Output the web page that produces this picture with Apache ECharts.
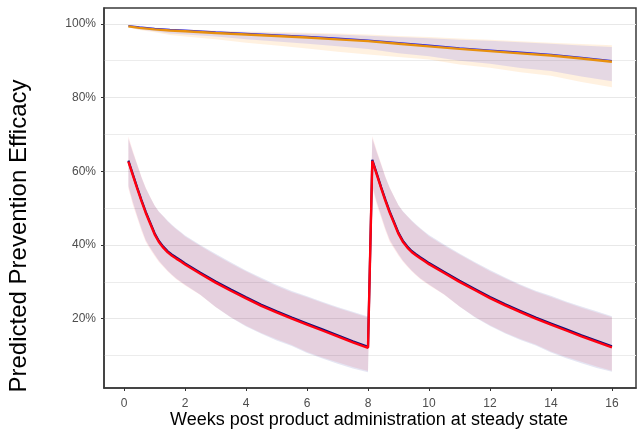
<!DOCTYPE html>
<html>
<head>
<meta charset="utf-8">
<script src="https://cdn.jsdelivr.net/npm/echarts@6/dist/echarts.min.js"></script>
<style>
html,body{margin:0;padding:0;background:#fff;}
#chart{width:637px;height:431px;}
</style>
</head>
<body>
<div id="chart"></div>
<script>
// ---- Data (percent) ----
var weeksLow = [0.14,0.29,0.43,0.57,0.71,0.86,1,1.14,1.29,1.43,1.57,1.71,1.86,2,2.5,3,3.5,4,4.5,5,5.5,6,6.5,7,7.5,8,
                8.14,8.29,8.43,8.57,8.71,8.86,9,9.14,9.29,9.43,9.57,9.71,9.86,10,10.5,11,11.5,12,12.5,13,13.5,14,14.5,15,15.5,16];
var redLine  = [62.6,58.8,55.3,51.9,48.7,45.7,42.9,40.8,39.2,38.0,37.1,36.3,35.5,34.7,32.2,29.8,27.6,25.5,23.5,21.7,20.0,18.4,16.8,15.2,13.6,12.1,
                62.8,59.0,55.4,52.0,48.8,45.8,43.0,40.9,39.3,38.1,37.2,36.4,35.6,34.8,32.4,30.0,27.8,25.6,23.6,21.8,20.0,18.4,16.8,15.2,13.7,12.2];
var navyLine = [62.9,59.1,55.6,52.2,49.0,46.0,43.2,41.1,39.5,38.3,37.4,36.6,35.8,35.0,32.5,30.1,27.9,25.8,23.8,22.0,20.3,18.7,17.1,15.5,13.9,12.4,
                63.1,59.3,55.7,52.3,49.1,46.1,43.3,41.2,39.6,38.4,37.5,36.7,35.9,35.1,32.7,30.3,28.1,25.9,23.9,22.1,20.3,18.7,17.1,15.5,14.0,12.5];
var redHi    = [69.5,65.5,62.0,58.5,55.5,53.0,50.7,49.0,47.7,46.4,45.3,44.3,43.3,42.3,39.7,37.3,35.0,32.8,30.8,28.9,27.2,25.8,24.3,22.9,21.6,20.3,
                69.6,65.6,62.1,58.6,55.6,53.1,50.8,49.1,47.8,46.5,45.4,44.4,43.4,42.4,39.8,37.4,35.1,32.9,30.9,29.0,27.3,25.9,24.4,23.0,21.7,20.4];
var redLo    = [55.3,50.8,47.3,43.8,40.8,38.8,37.0,35.4,34.0,32.8,31.7,30.7,29.8,29.0,26.4,23.2,20.4,18.1,16.1,14.4,12.9,11.0,9.5,8.2,6.9,5.8,
                55.4,50.9,47.4,43.9,40.9,38.9,37.1,35.5,34.1,32.9,31.8,30.8,29.9,29.1,26.5,23.3,20.5,18.2,16.2,14.5,13.0,11.1,9.6,8.3,7.0,5.9];
var navyHi   = [68.8,65.0,61.7,58.3,55.4,52.9,50.7,49.1,47.8,46.6,45.5,44.5,43.5,42.6,40.0,37.6,35.3,33.1,31.1,29.2,27.5,26.1,24.6,23.2,21.9,20.6,
                68.9,65.1,61.8,58.4,55.5,53.0,50.8,49.2,47.9,46.7,45.6,44.6,43.6,42.7,40.1,37.7,35.4,33.2,31.2,29.3,27.6,26.2,24.7,23.3,22.0,20.7];
var navyLo   = [56.0,51.5,47.9,44.4,41.3,39.2,37.4,35.7,34.3,33.0,31.9,30.9,30.0,29.2,26.5,23.2,20.3,17.9,15.9,14.1,12.6,10.7,9.2,7.8,6.5,5.5,
                56.1,51.6,48.0,44.5,41.4,39.3,37.5,35.8,34.4,33.1,32.0,31.0,30.1,29.3,26.6,23.3,20.4,18.0,16.0,14.2,12.7,10.8,9.3,7.9,6.6,5.6];

var weeksHigh   = [0.14,0.5,1,1.5,2,3,4,5,6,7,8,9,10,11,12,13,14,15,16];
var orangeLine  = [99.3,98.9,98.5,98.2,98.0,97.5,97.1,96.7,96.3,95.8,95.3,94.6,93.9,93.2,92.6,92.0,91.4,90.6,89.7];
var blueLine    = [99.5,99.15,98.75,98.45,98.25,97.75,97.35,96.95,96.55,96.05,95.55,94.85,94.15,93.45,92.85,92.25,91.65,90.85,89.95];
var blueHi      = [99.5,99.2,98.8,98.5,98.3,98.0,97.7,97.5,97.3,97.1,96.8,96.4,96.1,95.7,95.4,95.0,94.6,94.1,93.7];
var blueLo      = [99.1,98.5,98.0,97.4,97.1,96.6,95.8,95.2,94.6,93.9,93.2,92.0,91.2,90.0,89.2,88.0,87.2,85.7,84.4];
var orangeHi    = [99.55,99.3,99.0,98.6,98.45,98.2,97.95,97.8,97.6,97.4,97.1,96.7,96.4,96.0,95.7,95.3,94.9,94.5,94.2];
var orangeLo    = [99.0,98.3,97.7,97.0,96.6,95.8,94.9,94.1,93.3,92.4,91.7,91.0,90.3,89.0,88.1,86.9,85.9,84.2,82.8];

var xTicks = [0,2,4,6,8,10,12,14,16];
var yTicks = [20,40,60,80,100];
var yMinorGrid = [10,30,50,70,90];
var xTitle = 'Weeks post product administration at steady state';
var yTitle = 'Predicted Prevention Efficacy';

// ---- helpers ----
function pairs(xs, ys){ return xs.map(function(x,i){ return [x, ys[i]]; }); }
function triples(xs, lo, hi){ return xs.map(function(x,i){ return [x, lo[i], hi[i]]; }); }

function ribbon(name, xs, lo, hi, color){
  var data = triples(xs, lo, hi);
  return {
    name: name, type: 'custom', clip: true, silent: true,
    encode: { x: 0, y: [1,2] },
    data: data,
    renderItem: function(params, api){
      if (params.dataIndex !== 0) return null;
      var top = [], bot = [];
      for (var i = 0; i < data.length; i++){
        top.push(api.coord([data[i][0], data[i][2]]));
        bot.push(api.coord([data[i][0], data[i][1]]));
      }
      var pts = top.concat(bot.reverse());
      return { type: 'polygon', shape: { points: pts }, style: { fill: color, stroke: null } };
    },
    z: 1
  };
}
function line(name, xs, ys, color, width, z){
  return {
    name: name, type: 'line', data: pairs(xs, ys), showSymbol: false, symbol: 'none',
    lineStyle: { color: color, width: width }, itemStyle: { color: color },
    z: z, silent: true, animation: false
  };
}

var chart = echarts.init(document.getElementById('chart'), null, { renderer: 'canvas' });
var fontFam = 'Liberation Sans, Arial, sans-serif';

chart.setOption({
  animation: false,
  backgroundColor: '#ffffff',
  grid: { left: 104, right: 1, top: 8, bottom: 43, outerBoundsMode: 'none', containLabel: false,
          show: true, borderColor: '#3a3a3a', borderWidth: 1.5, backgroundColor: 'transparent' },
  xAxis: {
    type: 'value', min: -0.66, max: 16.79,
    axisLine: { show: true, onZero: false, lineStyle: { color: '#3a3a3a', width: 1.5 } },
    axisTick: { show: true, length: 3, customValues: xTicks, lineStyle: { color: '#333' } },
    axisLabel: { customValues: xTicks, color: '#4d4d4d', fontFamily: fontFam, fontSize: 12, margin: 10 },
    splitLine: { show: false }
  },
  yAxis: [{
    type: 'value', min: 1.2, max: 104.3,
    axisLine: { show: true, onZero: false, lineStyle: { color: '#3a3a3a', width: 1.5 } },
    axisTick: { show: true, length: 3, customValues: yTicks, lineStyle: { color: '#333' } },
    axisLabel: { customValues: yTicks, formatter: function(v){ return v + '%'; }, color: '#4d4d4d', fontFamily: fontFam, fontSize: 12, margin: 8 },
    splitLine: { show: true, lineStyle: { color: '#e8e8e8', width: 1 } }
  },{
    type: 'value', min: 1.2, max: 104.3, position: 'left',
    axisLine: { show: false, onZero: false },
    axisTick: { show: false, customValues: yMinorGrid },
    axisLabel: { show: false, customValues: yMinorGrid },
    splitLine: { show: true, lineStyle: { color: '#ececec', width: 1 } }
  }],
  graphic: [{
    type: 'text', x: 19, y: 236, rotation: Math.PI / 2,
    style: { text: yTitle, font: '24px Liberation Sans, Arial, sans-serif', fill: '#000', align: 'center', verticalAlign: 'middle' }
  },{
    type: 'text', x: 369, y: 420,
    style: { text: xTitle, font: '18px Liberation Sans, Arial, sans-serif', fill: '#000', align: 'center', verticalAlign: 'middle' }
  }],
  series: [
    ribbon('orange band', weeksHigh, orangeLo, orangeHi, 'rgba(255,140,0,0.12)'),
    ribbon('blue band', weeksHigh, blueLo, blueHi, 'rgba(0,0,255,0.10)'),
    ribbon('red band', weeksLow, redLo, redHi, 'rgba(255,0,0,0.09)'),
    ribbon('navy band', weeksLow, navyLo, navyHi, 'rgba(0,0,139,0.10)'),
    line('blue', weeksHigh, blueLine, '#2020f0', 1.6, 5),
    line('orange', weeksHigh, orangeLine, '#e8900e', 2.4, 6),
    line('navy', weeksLow, navyLine, '#10107a', 2.2, 5),
    line('red', weeksLow, redLine, '#ff0010', 2.4, 6)
  ]
});
</script>
</body>
</html>
